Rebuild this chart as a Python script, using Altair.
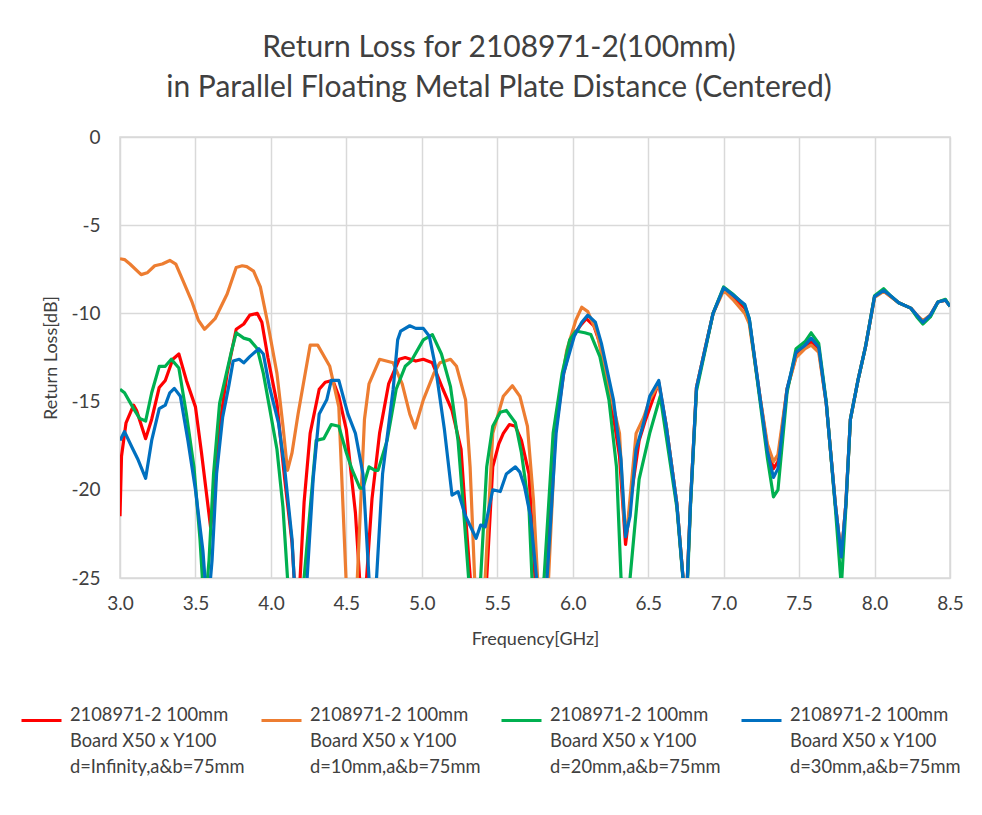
import altair as alt
import pandas as pd

FONT = "Lato"
TXT = "#404040"

series_names = [
    "2108971-2 100mm|Board X50 x Y100|d=Infinity,a&b=75mm",
    "2108971-2 100mm|Board X50 x Y100|d=10mm,a&b=75mm",
    "2108971-2 100mm|Board X50 x Y100|d=20mm,a&b=75mm",
    "2108971-2 100mm|Board X50 x Y100|d=30mm,a&b=75mm",
]
series_colors = ["#FF0000", "#ED7D31", "#00B050", "#0070C0"]

x_ticks = [3.0, 3.5, 4.0, 4.5, 5.0, 5.5, 6.0, 6.5, 7.0, 7.5, 8.0, 8.5]
y_ticks = [0, -5, -10, -15, -20, -25]

# d = Infinity (red)
freq_red = [3.00, 3.01, 3.04, 3.09, 3.11, 3.17, 3.21, 3.26, 3.30, 3.35, 3.39, 3.44, 3.50, 3.54, 3.60, 3.62,
            3.66, 3.71, 3.77, 3.82, 3.86, 3.91, 3.94, 3.98, 4.04, 4.09, 4.14, 4.175, 4.22, 4.26, 4.32, 4.36,
            4.41, 4.45, 4.50, 4.56, 4.61, 4.67, 4.72, 4.78, 4.85, 4.89, 4.96, 5.01, 5.07, 5.14, 5.20, 5.26,
            5.29, 5.33, 5.38, 5.43, 5.47, 5.51, 5.54, 5.58, 5.62, 5.66, 5.71, 5.75, 5.79, 5.83, 5.87, 5.94,
            6.00, 6.05, 6.09, 6.14, 6.18, 6.24, 6.31, 6.35, 6.39, 6.44, 6.48, 6.53, 6.57, 6.62, 6.69, 6.73,
            6.75, 6.78, 6.82, 6.88, 6.93, 7.00, 7.06, 7.14, 7.17, 7.24, 7.29, 7.33, 7.36, 7.42, 7.48, 7.54,
            7.58, 7.63, 7.68, 7.74, 7.78, 7.81, 7.84, 7.89, 7.94, 8.00, 8.06, 8.10, 8.16, 8.24, 8.28, 8.32,
            8.37, 8.42, 8.47, 8.50]
rl_red = [-21.5, -18.1, -16.2, -15.2, -15.5, -17.1, -16.0, -14.2, -13.8, -12.6, -12.3, -13.8, -15.3, -17.9, -22.1, -21.0,
          -16.4, -13.4, -10.9, -10.6, -10.1, -10.0, -10.5, -12.5, -15.1, -19.3, -23.0, -28.0, -20.7, -16.8, -14.3, -13.9,
          -13.8, -14.7, -16.6, -21.3, -28.0, -20.5, -16.8, -14.0, -12.6, -12.5, -12.7, -12.6, -12.8, -14.3, -15.5, -17.7,
          -21.5, -26.0, -30.0, -25.0, -18.7, -17.4, -16.8, -16.3, -16.4, -17.2, -19.1, -25.0, -29.0, -25.0, -17.7, -13.4,
          -11.3, -10.7, -10.3, -10.7, -11.7, -14.2, -18.1, -23.1, -20.2, -17.2, -16.1, -14.9, -13.9, -16.4, -20.8, -24.9,
          -27.0, -20.8, -14.2, -11.9, -10.0, -8.6, -9.0, -9.7, -10.4, -14.7, -17.6, -18.8, -18.4, -14.3, -12.4, -11.9,
          -11.6, -12.0, -15.1, -20.8, -23.8, -20.8, -16.0, -13.8, -11.9, -9.05, -8.7, -9.0, -9.4, -9.7, -10.1, -10.5,
          -10.1, -9.35, -9.25, -9.6]

# d = 10 mm (orange)
freq_orange = [3.00, 3.03, 3.066, 3.14, 3.18, 3.23, 3.28, 3.33, 3.37, 3.42, 3.475, 3.52, 3.56, 3.63, 3.71, 3.77,
               3.81, 3.84, 3.885, 3.93, 3.98, 4.04, 4.08, 4.11, 4.14, 4.18, 4.26, 4.31, 4.39, 4.45, 4.50, 4.53,
               4.57, 4.62, 4.65, 4.72, 4.81, 4.87, 4.92, 4.955, 5.01, 5.08, 5.12, 5.19, 5.23, 5.29, 5.32, 5.35,
               5.38, 5.42, 5.47, 5.54, 5.60, 5.65, 5.70, 5.74, 5.77, 5.80, 5.84, 5.89, 5.96, 6.02, 6.06, 6.10,
               6.16, 6.22, 6.31, 6.34, 6.36, 6.42, 6.47, 6.51, 6.57, 6.62, 6.69, 6.73, 6.75, 6.78, 6.82, 6.88,
               6.93, 7.00, 7.06, 7.14, 7.17, 7.24, 7.29, 7.33, 7.36, 7.42, 7.48, 7.54, 7.58, 7.63, 7.68, 7.74,
               7.78, 7.81, 7.84, 7.89, 7.94, 8.00, 8.06, 8.10, 8.16, 8.24, 8.28, 8.32, 8.37, 8.42, 8.47, 8.50]
rl_orange = [-6.9, -6.95, -7.2, -7.8, -7.7, -7.3, -7.2, -7.0, -7.2, -8.2, -9.3, -10.4, -10.9, -10.3, -8.9, -7.4,
             -7.3, -7.35, -7.6, -8.5, -10.6, -13.4, -16.4, -18.9, -17.9, -15.7, -11.8, -11.8, -13.0, -15.3, -25.5, -30.0,
             -25.5, -16.0, -14.0, -12.6, -12.8, -14.0, -15.7, -16.5, -14.9, -13.4, -12.8, -12.6, -13.0, -14.9, -18.7, -25.0,
             -29.0, -25.0, -16.8, -14.7, -14.1, -14.7, -16.4, -20.6, -25.5, -29.0, -25.0, -15.9, -12.1, -10.4, -9.65, -9.9,
             -11.1, -13.4, -16.8, -21.7, -22.3, -16.8, -15.9, -14.9, -14.0, -16.4, -20.8, -24.9, -27.0, -20.8, -14.2, -11.9,
             -10.0, -8.7, -9.2, -10.0, -10.6, -14.7, -17.4, -18.4, -18.0, -14.3, -12.5, -12.0, -11.8, -12.2, -15.1, -20.8,
             -23.8, -20.8, -16.0, -13.8, -11.9, -9.1, -8.75, -9.0, -9.4, -9.7, -10.1, -10.4, -10.1, -9.35, -9.25, -9.6]

# d = 20 mm (green)
freq_green = [3.00, 3.03, 3.09, 3.13, 3.17, 3.21, 3.26, 3.30, 3.34, 3.39, 3.44, 3.49, 3.53, 3.56, 3.59, 3.62,
              3.66, 3.70, 3.74, 3.77, 3.82, 3.86, 3.91, 3.95, 3.99, 4.04, 4.08, 4.11, 4.16, 4.22, 4.30, 4.35,
              4.40, 4.45, 4.50, 4.54, 4.59, 4.61, 4.65, 4.69, 4.71, 4.77, 4.83, 4.89, 4.93, 5.01, 5.07, 5.13,
              5.19, 5.24, 5.28, 5.31, 5.35, 5.39, 5.43, 5.47, 5.52, 5.56, 5.62, 5.66, 5.71, 5.73, 5.77, 5.81,
              5.87, 5.93, 5.98, 6.02, 6.08, 6.12, 6.18, 6.24, 6.29, 6.32, 6.35, 6.38, 6.44, 6.51, 6.58, 6.62,
              6.69, 6.73, 6.75, 6.78, 6.82, 6.88, 6.93, 7.00, 7.06, 7.14, 7.17, 7.24, 7.29, 7.33, 7.36, 7.42,
              7.48, 7.54, 7.58, 7.63, 7.68, 7.74, 7.78, 7.81, 7.84, 7.89, 7.94, 8.00, 8.06, 8.10, 8.16, 8.24,
              8.28, 8.32, 8.37, 8.42, 8.47, 8.50]
rl_green = [-14.3, -14.5, -15.4, -15.95, -16.1, -14.5, -13.0, -13.0, -12.6, -13.1, -15.7, -18.7, -22.8, -27.0, -24.0, -19.1,
            -15.1, -13.6, -12.1, -11.1, -11.4, -11.5, -12.0, -13.4, -15.3, -17.7, -21.0, -25.0, -30.0, -25.0, -17.2, -17.1,
            -16.3, -16.4, -17.9, -18.9, -19.9, -19.9, -18.7, -18.9, -18.9, -17.2, -14.3, -13.0, -12.7, -11.5, -11.2, -12.3,
            -14.15, -17.2, -21.5, -25.0, -29.0, -25.0, -18.7, -16.4, -15.6, -15.5, -16.2, -17.9, -21.0, -25.0, -29.0, -25.0,
            -16.8, -13.4, -11.5, -11.0, -11.1, -11.2, -12.45, -14.9, -18.7, -25.0, -28.0, -25.0, -19.4, -16.8, -14.7, -17.0,
            -21.0, -25.0, -27.5, -21.0, -14.4, -12.0, -10.0, -8.5, -8.9, -9.55, -10.3, -14.9, -18.2, -20.4, -20.0, -14.5,
            -12.0, -11.6, -11.1, -11.7, -15.0, -21.0, -25.5, -21.0, -16.0, -13.8, -11.9, -9.0, -8.6, -8.95, -9.4, -9.7,
            -10.2, -10.6, -10.2, -9.35, -9.2, -9.6]

# d = 30 mm (blue)
freq_blue = [3.00, 3.03, 3.08, 3.12, 3.17, 3.21, 3.26, 3.30, 3.33, 3.36, 3.40, 3.45, 3.50, 3.55, 3.58, 3.61,
             3.64, 3.68, 3.72, 3.75, 3.79, 3.82, 3.86, 3.92, 3.95, 3.99, 4.05, 4.09, 4.14, 4.16, 4.20, 4.24,
             4.28, 4.32, 4.37, 4.40, 4.45, 4.51, 4.56, 4.61, 4.65, 4.68, 4.70, 4.74, 4.81, 4.84, 4.86, 4.92,
             4.96, 5.01, 5.05, 5.09, 5.15, 5.20, 5.24, 5.29, 5.36, 5.39, 5.42, 5.47, 5.52, 5.56, 5.62, 5.65,
             5.68, 5.72, 5.76, 5.80, 5.83, 5.89, 5.94, 6.01, 6.06, 6.10, 6.15, 6.19, 6.27, 6.32, 6.35, 6.38,
             6.42, 6.47, 6.51, 6.57, 6.62, 6.69, 6.73, 6.75, 6.78, 6.82, 6.88, 6.93, 7.00, 7.06, 7.14, 7.17,
             7.24, 7.29, 7.33, 7.36, 7.42, 7.48, 7.54, 7.58, 7.63, 7.68, 7.74, 7.78, 7.81, 7.84, 7.89, 7.94,
             8.00, 8.06, 8.10, 8.16, 8.24, 8.28, 8.32, 8.37, 8.42, 8.47, 8.50]
rl_blue = [-17.2, -16.7, -17.6, -18.3, -19.35, -17.2, -15.4, -15.2, -14.5, -14.25, -14.7, -17.2, -20.0, -23.5, -27.0, -24.0,
           -19.1, -15.9, -14.15, -12.7, -12.6, -12.8, -12.45, -12.0, -12.3, -14.15, -16.2, -18.7, -22.8, -26.0, -30.0, -25.0,
           -19.4, -15.7, -14.9, -13.8, -13.8, -15.7, -16.8, -19.1, -25.0, -29.0, -25.0, -19.1, -14.3, -11.5, -11.0, -10.7,
           -10.85, -10.85, -11.3, -13.0, -16.6, -20.3, -20.1, -21.5, -22.75, -22.0, -22.1, -20.0, -20.1, -19.1, -18.7, -19.0,
           -19.8, -21.5, -25.0, -29.0, -25.0, -16.8, -13.4, -11.3, -10.5, -10.1, -10.5, -11.7, -14.9, -18.3, -22.65, -21.5,
           -17.7, -16.2, -14.7, -13.8, -16.4, -20.8, -24.9, -27.0, -20.8, -14.2, -11.9, -10.0, -8.55, -8.95, -9.5, -10.3,
           -14.7, -17.8, -19.3, -18.8, -14.3, -12.2, -11.8, -11.4, -11.9, -15.1, -20.8, -23.8, -20.8, -16.0, -13.8, -11.9,
           -9.05, -8.7, -8.95, -9.4, -9.7, -10.1, -10.5, -10.1, -9.35, -9.25, -9.6]

all_freq = [freq_red, freq_orange, freq_green, freq_blue]
all_rl = [rl_red, rl_orange, rl_green, rl_blue]

rows = []
for name, fs, vs in zip(series_names, all_freq, all_rl):
    for f, v in zip(fs, vs):
        rows.append({"Series": name, "Frequency": f, "RL": v})
df = pd.DataFrame(rows)

color = alt.Color(
    "Series:N",
    scale=alt.Scale(domain=series_names, range=series_colors),
    legend=alt.Legend(
        title=None, orient="none", legendX=-100, legendY=562, direction="horizontal",
        columns=4, gridAlign="all", columnPadding=10, padding=0,
        symbolType="stroke", symbolSize=1600, symbolStrokeWidth=3,
        labelExpr="split(datum.label, '|')", labelFont=FONT, labelFontSize=18.3,
        labelColor=TXT, labelBaseline="alphabetic", labelLimit=400, labelOffset=7,
    ),
)

x_enc = alt.X(
    "Frequency:Q",
    scale=alt.Scale(domain=[3.0, 8.5], nice=False, zero=False),
    axis=alt.Axis(values=x_ticks, labelExpr="format(datum.value, '.1f')", title="Frequency[GHz]",
                  grid=True, domain=False, ticks=False, labelFlush=False,
                  labelPadding=16, titlePadding=17),
)
y_enc = alt.Y(
    "RL:Q",
    scale=alt.Scale(domain=[-25, 0], nice=False, zero=False),
    axis=alt.Axis(values=y_ticks, labelExpr="'' + datum.value", title="Return Loss[dB]",
                  grid=True, domain=False, ticks=False, labelFlush=False,
                  labelPadding=20, titlePadding=10),
)

layers = []
for name in series_names:
    layers.append(
        alt.Chart(df)
        .transform_filter(alt.datum.Series == name)
        .mark_line(clip=True, strokeWidth=3.2, strokeJoin="round")
        .encode(x=x_enc, y=y_enc, color=color, order="Frequency:Q")
    )

chart = (
    alt.layer(*layers)
    .properties(
        width=830,
        height=441,
        padding={"left": 112, "top": 129, "right": 24, "bottom": 229},
        autosize=alt.AutoSizeParams(type="none"),
        title=alt.TitleParams(
            text=["Return Loss for 2108971-2(100mm)", "in Parallel Floating Metal Plate Distance (Centered)"],
            font=FONT, fontSize=30, fontWeight="normal", color=TXT, lineHeight=40,
            anchor="middle", dx=-36, offset=-5, baseline="bottom",
        ),
    )
    .configure(style={"guide-label": {"lineHeight": 26}})
    .configure_view(stroke="#D9D9D9", strokeWidth=1.5)
    .configure_axis(
        gridColor="#D9D9D9", gridWidth=1.5,
        labelFont=FONT, labelFontSize=19, labelColor=TXT,
        titleFont=FONT, titleFontSize=18, titleColor=TXT, titleFontWeight="normal",
    )
)

chart.save("out.html", embed_options={"renderer": "svg", "actions": False})
